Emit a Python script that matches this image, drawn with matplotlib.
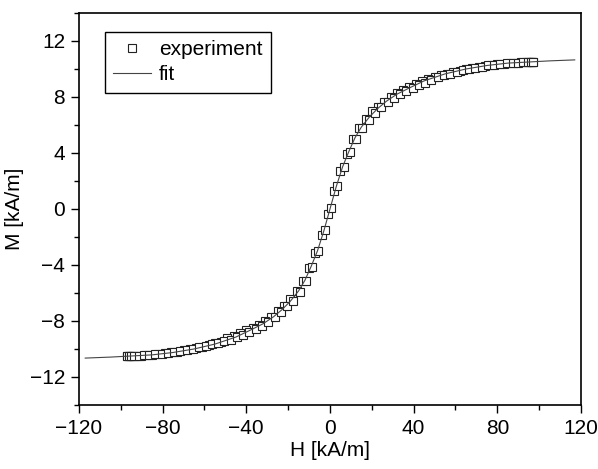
import numpy as np
import matplotlib.pyplot as plt
from matplotlib.ticker import MultipleLocator

plt.rcParams['font.family'] = ['Liberation Sans', 'DejaVu Sans']
plt.rcParams['font.size'] = 15

# experiment, descending branch
H_down = [97, 96.5, 96, 95, 93.5, 91.5, 89, 86, 83, 80, 77, 74, 71, 68, 65, 62,
          59, 56, 53, 50, 47, 44, 41, 38, 35, 32, 29, 26, 23, 20, 17, 14, 11, 8,
          5, 2, -1, -4, -7, -10, -13, -16, -19, -22, -25, -28, -31, -34, -37,
          -40, -43, -46, -49, -52, -55, -58, -61, -64, -67, -70, -73, -76, -79,
          -82, -85, -88, -90.5, -92.5, -94, -95.5, -96.5, -97]
M_down = [10.5, 10.5, 10.5, 10.49, 10.48, 10.47, 10.45, 10.42, 10.38, 10.33,
          10.27, 10.2, 10.13, 10.06, 9.97, 9.88, 9.76, 9.64, 9.54, 9.45, 9.32,
          9.13, 8.93, 8.73, 8.52, 8.3, 8.0, 7.67, 7.3, 6.97, 6.45, 5.82, 4.97,
          3.93, 2.73, 1.27, -0.33, -1.87, -3.17, -4.23, -5.17, -5.85, -6.42,
          -6.95, -7.32, -7.7, -8.0, -8.27, -8.47, -8.67, -8.87, -9.07, -9.23,
          -9.47, -9.58, -9.7, -9.83, -9.93, -10.03, -10.1, -10.18, -10.25,
          -10.3, -10.35, -10.4, -10.45, -10.47, -10.48, -10.5, -10.5, -10.5,
          -10.5]

# experiment, ascending branch
H_up = [-97, -96, -95, -93.5, -91.5, -89, -86.5, -83.5, -80.5, -77.5, -74.5,
        -71.5, -68.5, -65.5, -62.5, -59.5, -56.5, -53.5, -50.5, -47.5, -44.5,
        -41.5, -38.5, -35.5, -32.5, -29.5, -26.5, -23.5, -20.5, -17.5, -14.5,
        -11.5, -8.5, -5.5, -2.5, 0.5, 3.5, 6.5, 9.5, 12.5, 15.5, 18.5, 21.5,
        24.5, 27.5, 30.5, 33.5, 36.5, 39.5, 42.5, 45.5, 48.5, 51.5, 54.5, 57.5,
        60.5, 63.5, 66.5, 69.5, 72.5, 75.5, 78.5, 81.5, 84.5, 87.5, 90, 92.5,
        94.5, 96, 97]
M_up = [-10.5, -10.5, -10.49, -10.48, -10.47, -10.45, -10.42, -10.38, -10.33,
        -10.28, -10.21, -10.14, -10.07, -9.98, -9.89, -9.78, -9.64, -9.55,
        -9.45, -9.36, -9.17, -8.97, -8.77, -8.56, -8.35, -8.05, -7.73, -7.37,
        -6.95, -6.55, -5.92, -5.13, -4.12, -2.97, -1.53, 0.07, 1.67, 2.98, 4.07,
        5.03, 5.75, 6.33, 6.88, 7.3, 7.65, 7.95, 8.23, 8.43, 8.63, 8.83, 9.03,
        9.22, 9.43, 9.57, 9.67, 9.82, 9.92, 10.02, 10.1, 10.17, 10.25, 10.3,
        10.35, 10.4, 10.45, 10.46, 10.48, 10.5, 10.5, 10.5]

# fit curve
H_fit = [-117, -105, -95, -85, -75, -65, -55, -45, -38, -32, -27, -23, -19,
         -15, -12, -9, -6, -3, 0, 3, 6, 9, 12, 15, 19, 23, 27, 32, 38, 45, 55,
         65, 75, 85, 95, 105, 117]
M_fit = [-10.65, -10.58, -10.5, -10.42, -10.25, -10.0, -9.65, -9.15, -8.65,
         -8.2, -7.7, -7.2, -6.6, -5.85, -5.1, -4.1, -3.0, -1.6, 0.0, 1.6, 3.0,
         4.1, 5.1, 5.85, 6.6, 7.2, 7.7, 8.2, 8.65, 9.15, 9.65, 10.0, 10.25,
         10.42, 10.5, 10.58, 10.65]

fig = plt.figure(figsize=(5.98, 4.69), dpi=100)
ax = fig.add_axes([0.132, 0.1365, 0.8396, 0.8358])

mk = dict(marker='s', linestyle='none', markersize=5.8, markerfacecolor='white',
          markeredgecolor='#222222', markeredgewidth=0.8)
ax.plot(H_down, M_down, label='experiment', zorder=2, **mk)
ax.plot(H_up, M_up, zorder=2, **mk)
ax.plot(H_fit, M_fit, color='#444444', linewidth=0.8, label='fit', zorder=3)

ax.set_xlim(-120, 120)
ax.set_ylim(-14, 14)
ax.xaxis.set_major_locator(MultipleLocator(40))
ax.xaxis.set_minor_locator(MultipleLocator(20))
ax.yaxis.set_major_locator(MultipleLocator(4))
ax.yaxis.set_minor_locator(MultipleLocator(2))
ax.tick_params(which='major', direction='out', length=6, width=1.0,
               top=False, right=False, labelsize=15, pad=4)
ax.tick_params(which='minor', direction='out', length=3.5, width=1.0,
               top=False, right=False)
for s in ax.spines.values():
    s.set_linewidth(1.2)

ax.set_xlabel('H [kA/m]', fontsize=15, labelpad=2)
ax.set_ylabel('M [kA/m]', fontsize=15, labelpad=4)

leg = ax.legend(loc='upper left', bbox_to_anchor=(0.052, 0.952),
                borderaxespad=0, fancybox=False, framealpha=1,
                edgecolor='black', handlelength=1.8, handletextpad=0.4,
                labelspacing=0.3, borderpad=0.4, fontsize=15)
leg.get_frame().set_linewidth(1.0)

fig.savefig('out.png', dpi=100)
